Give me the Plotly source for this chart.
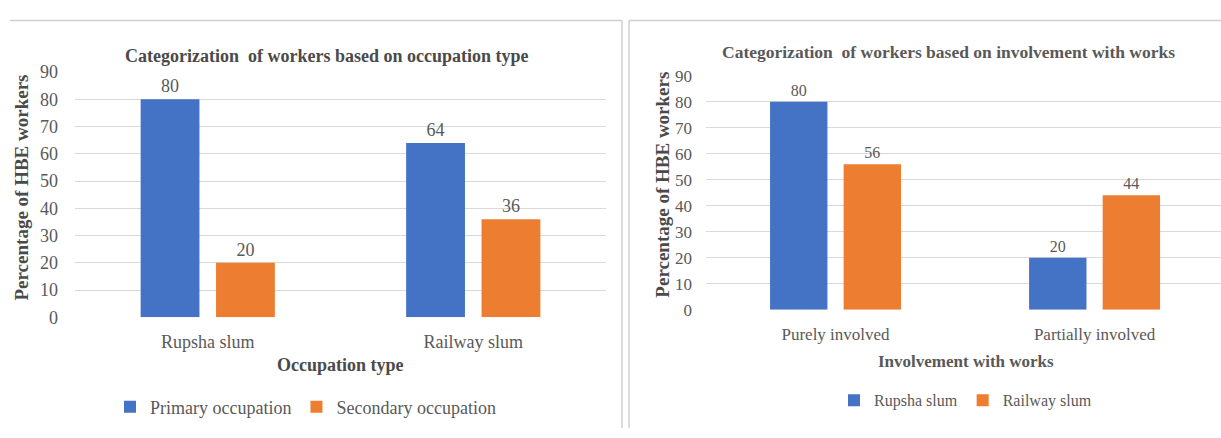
import plotly.graph_objects as go

W, H = 1221, 438

# Left chart data
occ_categories = ["Rupsha slum", "Railway slum"]
primary_occupation = [80, 64]
secondary_occupation = [20, 36]

# Right chart data
inv_categories = ["Purely involved", "Partially involved"]
rupsha_slum = [80, 20]
railway_slum = [56, 44]

y_ticks = [0, 10, 20, 30, 40, 50, 60, 70, 80, 90]

BLUE = "#4472C4"
ORANGE = "#ED7D31"
GRAY = "#595959"
DARK = "#4a4a4a"
GRID = "#D9D9D9"
FONT = "Liberation Serif, Tinos, Times New Roman, DejaVu Serif, serif"

def px(x):
    return x / W

def py(y):
    return 1 - y / H

fig = go.Figure()

def bar(x, y, name, color, xa, ya, legend, size):
    return go.Bar(
        x=x, y=y, name=name, marker=dict(color=color, line=dict(width=0)),
        text=y, texttemplate="%{text}", textposition="outside",
        textfont=dict(family=FONT, size=size, color=GRAY),
        cliponaxis=False, xaxis=xa, yaxis=ya, legend=legend,
    )

fig.add_trace(bar(occ_categories, primary_occupation, "Primary occupation", BLUE, "x", "y", "legend", 18))
fig.add_trace(bar(occ_categories, secondary_occupation, "Secondary occupation", ORANGE, "x", "y", "legend", 18))
fig.add_trace(bar(inv_categories, rupsha_slum, "Rupsha slum", BLUE, "x2", "y2", "legend2", 16))
fig.add_trace(bar(inv_categories, railway_slum, "Railway slum", ORANGE, "x2", "y2", "legend2", 16))

tf1 = dict(family=FONT, size=18, color=GRAY)
tf2 = dict(family=FONT, size=17, color=GRAY)

xcommon = dict(type="category", showgrid=False, zeroline=False, showline=False,
               ticks="", fixedrange=True)
ycommon = dict(range=[0, 90], tickvals=y_ticks, showgrid=True, gridcolor=GRID, gridwidth=1,
               zeroline=False, showline=False, ticks="", fixedrange=True)

fig.update_layout(
    width=W, height=H,
    margin=dict(l=0, r=0, t=0, b=0),
    paper_bgcolor="white", plot_bgcolor="white",
    barmode="group", bargap=0.432, bargroupgap=0.22,
    font=dict(family=FONT, color=GRAY),
    xaxis=dict(domain=[px(75), px(606)], range=[-0.5, 1.5], anchor="y",
               tickfont=tf1, ticklabelstandoff=12, **xcommon),
    yaxis=dict(domain=[py(322), py(65)], anchor="x", tickfont=tf1, ticklabelstandoff=16, **ycommon),
    xaxis2=dict(domain=[px(706), 1.0], range=[-0.5, 1.488], anchor="y2",
                tickfont=tf2, ticklabelstandoff=12, **xcommon),
    yaxis2=dict(domain=[py(314), py(69)], anchor="x2", tickfont=tf2, ticklabelstandoff=13, **ycommon),
    legend=dict(orientation="h", x=px(110), xanchor="left", y=py(416), yanchor="middle",
                font=dict(family=FONT, size=18, color=GRAY), itemwidth=30,
                bgcolor="rgba(0,0,0,0)"),
    legend2=dict(orientation="h", x=px(834), xanchor="left", y=py(409), yanchor="middle",
                 font=dict(family=FONT, size=16, color=GRAY), itemwidth=30,
                 bgcolor="rgba(0,0,0,0)"),
    showlegend=True,
)

ann = []
def text(x, y, s, size=16, bold=True, angle=0, color=DARK):
    ann.append(dict(x=px(x), y=py(y), xref="paper", yref="paper", text=f"<b>{s}</b>" if bold else s,
                    showarrow=False, xanchor="center", yanchor="middle", textangle=angle,
                    font=dict(family=FONT, size=size, color=color)))

text(326, 48, "Categorization&nbsp; of workers based on occupation type", size=18)
text(948, 44, "Categorization&nbsp; of workers based on involvement with works", size=17.5, color=GRAY)
text(22, 186, "Percentage of HBE workers", size=19, angle=-90)
text(663, 183, "Percentage of HBE workers", size=19, angle=-90)
text(340, 372, "Occupation type", size=18)
text(966, 368, "Involvement with works", size=17, color=GRAY)
fig.update_layout(annotations=ann)

line = dict(color="#D0D0D0", width=1.5)
shapes = [
    dict(type="line", xref="paper", yref="paper", x0=px(10), x1=px(622), y0=py(11), y1=py(11), line=line),
    dict(type="line", xref="paper", yref="paper", x0=px(622), x1=px(622), y0=py(11), y1=0, line=line),
    dict(type="line", xref="paper", yref="paper", x0=px(629), x1=1.0, y0=py(11), y1=py(11), line=line),
    dict(type="line", xref="paper", yref="paper", x0=px(629), x1=px(629), y0=py(11), y1=0, line=line),
]
fig.update_layout(shapes=shapes)

fig.write_html("out.html", config={"displayModeBar": False},
               post_script="document.body.style.margin='0';document.body.style.overflow='hidden';")
